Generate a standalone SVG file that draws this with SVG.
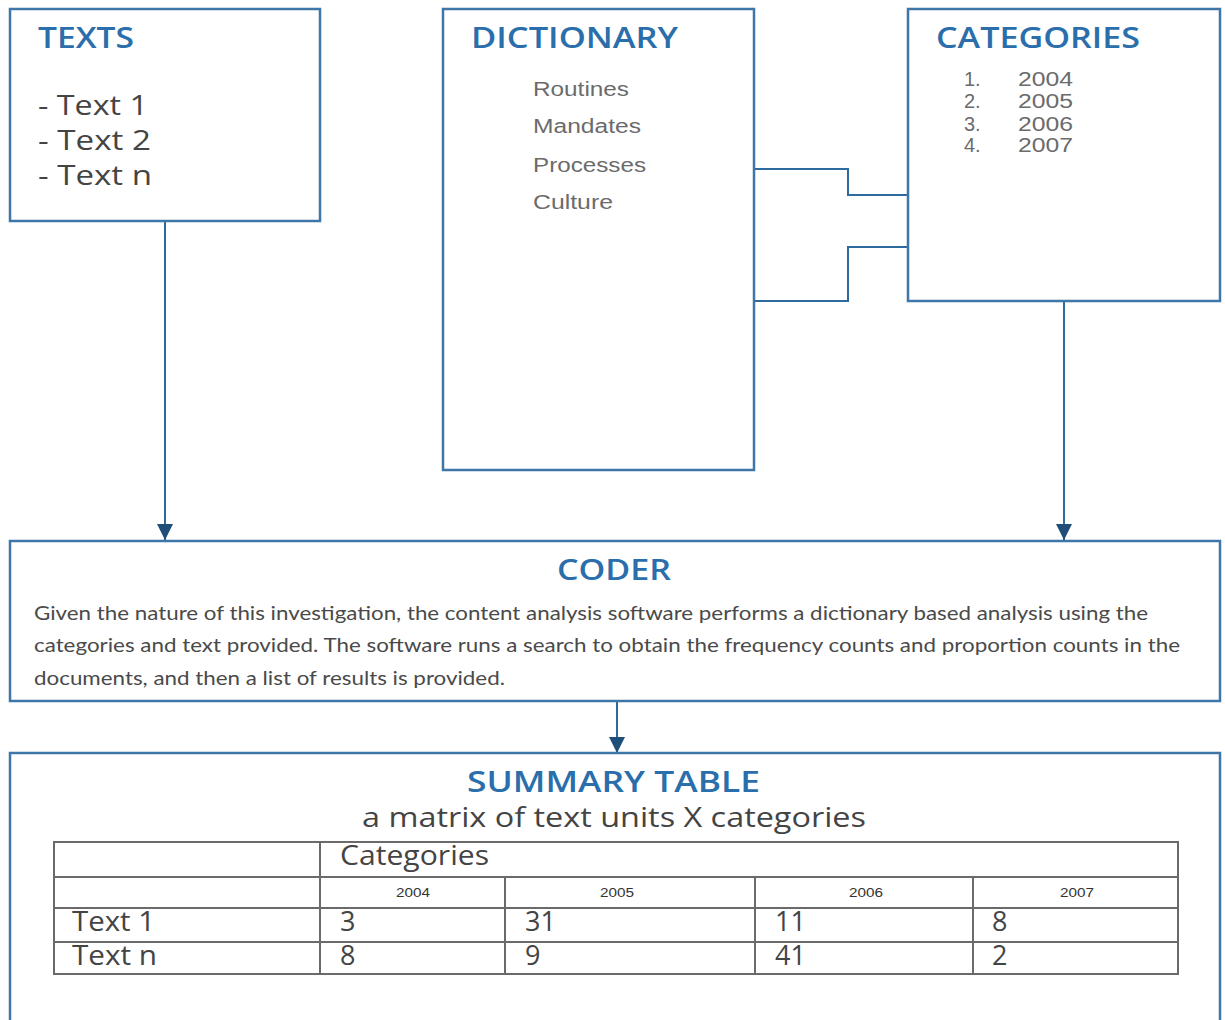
<svg xmlns="http://www.w3.org/2000/svg" width="1225" height="1020" viewBox="0 0 1225 1020">
<style>
.box{fill:#fff;stroke:#3f76a8;stroke-width:2.5}
.conn{fill:none;stroke:#2f6a9e;stroke-width:2}
.title{font-family:"Open Sans","Noto Sans",sans-serif;font-size:28px;font-weight:600;fill:#2a6eab}
.item{font-family:"Open Sans","Noto Sans",sans-serif;font-size:27px;fill:#444}
.dict{font-family:"Liberation Sans",Arial,sans-serif;font-size:20px;fill:#6b6b6b}
.body{font-family:Lato,"Open Sans",sans-serif;font-size:20px;fill:#4a4a4a}
.tbl{fill:none;stroke:#6a6a6a;stroke-width:2}
.cell{font-family:"Open Sans","Noto Sans",sans-serif;font-size:27px;fill:#444}
.yr{font-family:"Liberation Sans",Arial,sans-serif;font-size:12px;fill:#333;text-anchor:middle}
</style>
<defs>
<marker id="arr" viewBox="0 0 16 16" refX="16" refY="8" markerWidth="16" markerHeight="16" markerUnits="userSpaceOnUse" orient="auto">
<path d="M0 0 L16 8 L0 16 Z" fill="#1f4e79"/>
</marker>
</defs>
<rect width="1225" height="1020" fill="#fff"/>
<g id="connectors">
<path class="conn" d="M754 169 H848 V195 H908"/>
<path class="conn" d="M754 301 H848 V247 H908"/>
<path class="conn" d="M165 221 V540" marker-end="url(#arr)"/>
<path class="conn" d="M1064 301 V540" marker-end="url(#arr)"/>
<path class="conn" d="M617 701 V753" marker-end="url(#arr)"/>
</g>
<g id="texts">
<rect class="box" x="10" y="9" width="310" height="212"/>
<text class="title" x="38" y="48" textLength="96" lengthAdjust="spacingAndGlyphs">TEXTS</text>
<text class="item" x="38" y="115" textLength="110" lengthAdjust="spacingAndGlyphs">- Text 1</text>
<text class="item" x="38" y="150" textLength="113" lengthAdjust="spacingAndGlyphs">- Text 2</text>
<text class="item" x="38" y="185" textLength="114" lengthAdjust="spacingAndGlyphs">- Text n</text>
</g>
<g id="dictionary">
<rect class="box" x="443" y="9" width="311" height="461"/>
<text class="title" x="471" y="48" textLength="207" lengthAdjust="spacingAndGlyphs">DICTIONARY</text>
<text class="dict" x="533" y="96" textLength="96" lengthAdjust="spacingAndGlyphs">Routines</text>
<text class="dict" x="533" y="133" textLength="108" lengthAdjust="spacingAndGlyphs">Mandates</text>
<text class="dict" x="533" y="172" textLength="113" lengthAdjust="spacingAndGlyphs">Processes</text>
<text class="dict" x="533" y="209" textLength="80" lengthAdjust="spacingAndGlyphs">Culture</text>
</g>
<g id="categories">
<rect class="box" x="908" y="9" width="312" height="292"/>
<text class="title" x="936" y="48" textLength="204" lengthAdjust="spacingAndGlyphs">CATEGORIES</text>
<text class="dict" x="964" y="86">1.</text><text class="dict" x="1018" y="86" textLength="55" lengthAdjust="spacingAndGlyphs">2004</text>
<text class="dict" x="964" y="108">2.</text><text class="dict" x="1018" y="108" textLength="55" lengthAdjust="spacingAndGlyphs">2005</text>
<text class="dict" x="964" y="131">3.</text><text class="dict" x="1018" y="131" textLength="55" lengthAdjust="spacingAndGlyphs">2006</text>
<text class="dict" x="964" y="152">4.</text><text class="dict" x="1018" y="152" textLength="55" lengthAdjust="spacingAndGlyphs">2007</text>
</g>
<g id="coder">
<rect class="box" x="10" y="541" width="1210" height="160"/>
<text class="title" x="557" y="580" textLength="114" lengthAdjust="spacingAndGlyphs">CODER</text>
<text class="body" x="34" y="620" textLength="1114" lengthAdjust="spacingAndGlyphs">Given the nature of this investigation, the content analysis software performs a dictionary based analysis using the</text>
<text class="body" x="34" y="652" textLength="1146" lengthAdjust="spacingAndGlyphs">categories and text provided. The software runs a search to obtain the frequency counts and proportion counts in the</text>
<text class="body" x="34" y="685" textLength="471" lengthAdjust="spacingAndGlyphs">documents, and then a list of results is provided.</text>
</g>
<g id="summary">
<rect class="box" x="10" y="753" width="1210" height="275"/>
<text class="title" x="467" y="792" textLength="293" lengthAdjust="spacingAndGlyphs">SUMMARY TABLE</text>
<text class="cell" x="362" y="827" font-size="28" textLength="504" lengthAdjust="spacingAndGlyphs">a matrix of text units X categories</text>
<rect class="tbl" x="54" y="842" width="1124" height="132"/>
<line class="tbl" x1="54" y1="877" x2="1178" y2="877"/>
<line class="tbl" x1="54" y1="908" x2="1178" y2="908"/>
<line class="tbl" x1="54" y1="942" x2="1178" y2="942"/>
<line class="tbl" x1="320" y1="842" x2="320" y2="974"/>
<line class="tbl" x1="505" y1="877" x2="505" y2="974"/>
<line class="tbl" x1="755" y1="877" x2="755" y2="974"/>
<line class="tbl" x1="973" y1="877" x2="973" y2="974"/>
<text class="cell" x="340" y="865" textLength="149" lengthAdjust="spacingAndGlyphs">Categories</text>
<text class="yr" x="413" y="897" textLength="34" lengthAdjust="spacingAndGlyphs">2004</text>
<text class="yr" x="617" y="897" textLength="34" lengthAdjust="spacingAndGlyphs">2005</text>
<text class="yr" x="866" y="897" textLength="34" lengthAdjust="spacingAndGlyphs">2006</text>
<text class="yr" x="1077" y="897" textLength="34" lengthAdjust="spacingAndGlyphs">2007</text>
<text class="cell" x="72" y="931" textLength="83" lengthAdjust="spacingAndGlyphs">Text 1</text>
<text class="cell" x="340" y="931">3</text>
<text class="cell" x="525" y="931">31</text>
<text class="cell" x="775" y="931">11</text>
<text class="cell" x="992" y="931">8</text>
<text class="cell" x="72" y="965" textLength="85" lengthAdjust="spacingAndGlyphs">Text n</text>
<text class="cell" x="340" y="965">8</text>
<text class="cell" x="525" y="965">9</text>
<text class="cell" x="775" y="965">41</text>
<text class="cell" x="992" y="965">2</text>
</g>
</svg>
